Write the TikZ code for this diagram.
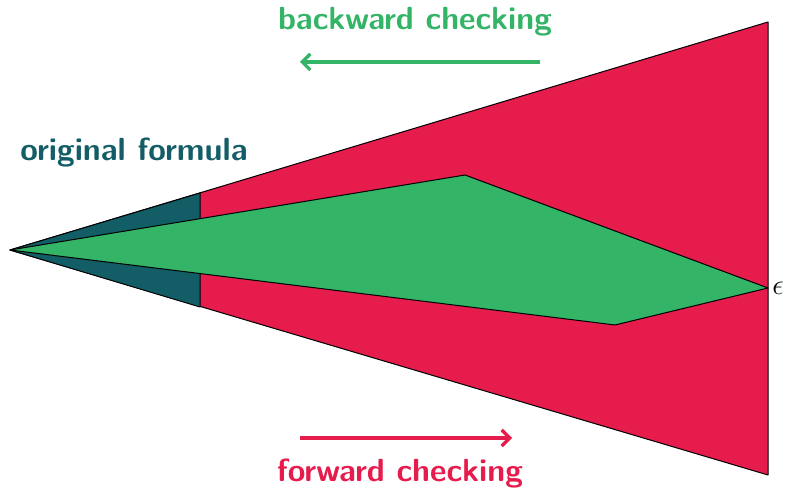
\documentclass[tikz,border=0pt]{standalone}
\usepackage{xcolor}
\usepackage{tikz}
\usetikzlibrary{arrows.meta,positioning}

\definecolor{fwdred}{HTML}{E61C4D}
\definecolor{bwdgreen}{HTML}{34B466}
\definecolor{origteal}{HTML}{135E66}

\begin{document}
\begin{tikzpicture}[
        x=0.5pt, y=-0.5pt,
        region/.style={draw=black, line width=0.5pt, line join=round},
        phase/.style={font=\sffamily\bfseries\fontsize{16}{19}\selectfont, inner sep=0pt},
        dir/.style={line width=1.6pt, -{Straight Barb[length=4pt,width=8pt]}},
        >=Stealth
    ]
        \useasboundingbox (0,0) rectangle (789,492);

        % corners of the regions
        \coordinate (apex) at (10,250);
        \coordinate (fwdtop) at (768,22);
        \coordinate (fwdbot) at (768,475);
        \coordinate (origtop) at (200,193);
        \coordinate (origbot) at (200,307);
        \coordinate (bwdtop) at (465,175);
        \coordinate (bwdtip) at (768,288);
        \coordinate (bwdbot) at (615,325);

        \fill[fwdred, region] (apex) -- (fwdtop) -- (fwdbot) -- cycle;
        \fill[origteal, region] (apex) -- (origtop) -- (origbot) -- cycle;
        \fill[bwdgreen, region] (apex) -- (bwdtop) -- (bwdtip) -- (bwdbot) -- cycle;

        \node[right=2pt of bwdtip, inner sep=0pt, font=\fontsize{15}{18}\selectfont] (eps) {$\epsilon$};

        \node[phase, text=bwdgreen] (bwd) at (415,22) {backward checking};
        \node[phase, text=origteal] (orig) at (134,153) {original formula};
        \node[phase, text=fwdred] (fwd) at (400,474) {forward checking};

        % direction arrows
        \coordinate (bwdfrom) at (540,62);
        \coordinate (bwdto) at (300,62);
        \coordinate (fwdfrom) at (300,438);
        \coordinate (fwdto) at (512,438);
        \draw[dir, bwdgreen] (bwdfrom) -- (bwdto);
        \draw[dir, fwdred] (fwdfrom) -- (fwdto);
    \end{tikzpicture}
\end{document}
